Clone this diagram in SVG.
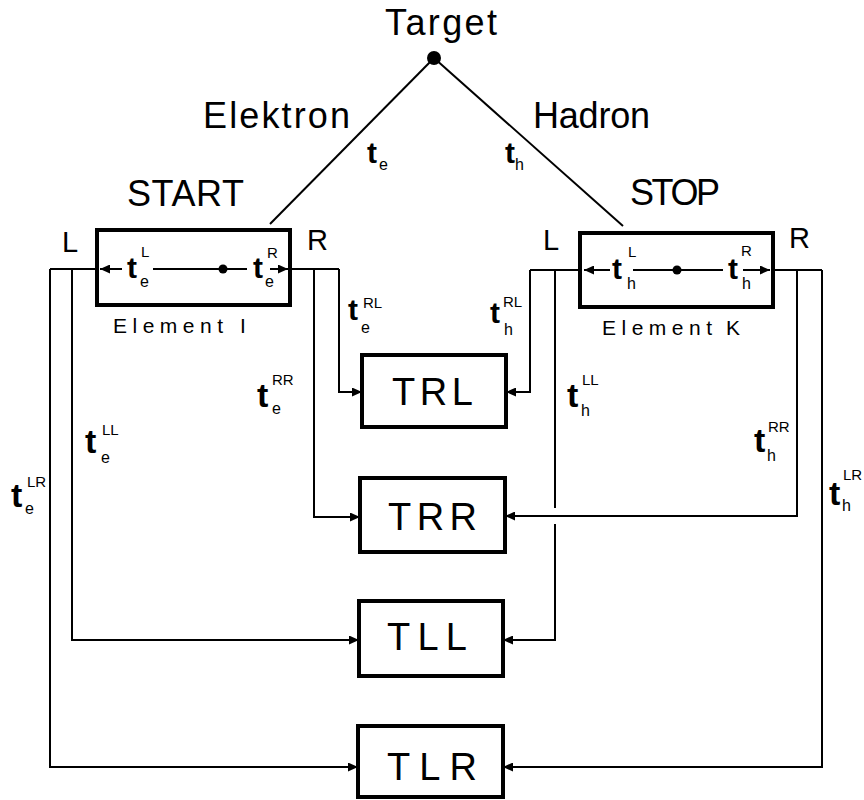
<svg xmlns="http://www.w3.org/2000/svg" width="864" height="800" viewBox="0 0 864 800">
  <style>
    .lbl { font-family: "Liberation Sans", Arial, sans-serif; fill: #000; }
    .big { font-size: 36px; }
    .side { font-size: 29px; }
    .tt { font-size: 30px; font-weight: bold; }
    .tl { font-size: 34px; font-weight: bold; }
    .sup { font-size: 15px; }
    .sub { font-size: 16px; }
    .small { font-size: 21px; }
    .boxtxt { font-size: 38px; }
    .box { fill: #fff; stroke: #000; stroke-width: 4; }
    .wire { fill: none; stroke: #000; stroke-width: 2; }
  </style>
  <defs>
    <marker id="arr" viewBox="0 0 10 9" refX="10" refY="4.5" markerWidth="10" markerHeight="9" markerUnits="userSpaceOnUse" orient="auto">
      <path d="M0,0 L10,4.5 L0,9 z" fill="#000"/>
    </marker>
  </defs>
  <rect width="864" height="800" fill="#fff"/>

  <!-- connectors -->
  <g id="connectors" class="wire">
    <!-- target to counters -->
    <line x1="434" y1="58" x2="270" y2="224"/>
    <line x1="434" y1="58" x2="623" y2="226"/>
    <!-- START left outputs -->
    <line x1="50" y1="269" x2="97" y2="269"/>
    <path d="M50,269 V767 H358" marker-end="url(#arr)"/>
    <path d="M72,269 V640 H359" marker-end="url(#arr)"/>
    <!-- START right outputs -->
    <line x1="290" y1="269" x2="339" y2="269"/>
    <path d="M339,269 V392 H362" marker-end="url(#arr)"/>
    <path d="M314,269 V517 H360" marker-end="url(#arr)"/>
    <!-- STOP left outputs -->
    <line x1="530" y1="270" x2="580" y2="270"/>
    <path d="M530,270 V392 H506" marker-end="url(#arr)"/>
    <path d="M555,270 V508"/>
    <path d="M555,524 V640 H503" marker-end="url(#arr)"/>
    <!-- STOP right outputs -->
    <line x1="773" y1="270" x2="822" y2="270"/>
    <path d="M797,270 V516 H505" marker-end="url(#arr)"/>
    <path d="M822,270 V767 H503" marker-end="url(#arr)"/>
  </g>

  <!-- target -->
  <g id="target">
    <circle cx="434" cy="58" r="7" fill="#000"/>
    <text class="lbl big" x="385" y="35" textLength="112">Target</text>
    <text class="lbl big" x="203" y="128" textLength="147">Elektron</text>
    <text class="lbl big" x="533" y="128" textLength="117">Hadron</text>
    <text class="lbl tt" x="367" y="163">t</text>
    <text class="lbl sub" x="379" y="170">e</text>
    <text class="lbl tt" x="505" y="163">t</text>
    <text class="lbl sub" x="515" y="170">h</text>
  </g>

  <!-- START counter (element I) -->
  <g id="start">
    <text class="lbl big" x="127" y="206" textLength="117">START</text>
    <text class="lbl side" x="62" y="252">L</text>
    <text class="lbl side" x="307" y="250">R</text>
    <rect class="box" x="97" y="230" width="193" height="75"/>
    <line class="wire" x1="122" y1="269" x2="100" y2="269" marker-end="url(#arr)"/>
    <line class="wire" x1="153" y1="269" x2="247" y2="269"/>
    <line class="wire" x1="270" y1="269" x2="288" y2="269" marker-end="url(#arr)"/>
    <circle cx="223" cy="269" r="4.5" fill="#000"/>
    <text class="lbl tt" x="127" y="278">t</text>
    <text class="lbl sup" x="141" y="257">L</text>
    <text class="lbl sub" x="140" y="287">e</text>
    <text class="lbl tt" x="253" y="278">t</text>
    <text class="lbl sup" x="267" y="258">R</text>
    <text class="lbl sub" x="265" y="287">e</text>
    <text class="lbl small" x="113" y="333" textLength="110">Element</text>
    <text class="lbl small" x="240" y="333">I</text>
  </g>

  <!-- STOP counter (element K) -->
  <g id="stop">
    <text class="lbl big" x="630" y="205" textLength="90">STOP</text>
    <text class="lbl side" x="543" y="250">L</text>
    <text class="lbl side" x="789" y="248">R</text>
    <rect class="box" x="580" y="233" width="193" height="74"/>
    <line class="wire" x1="610" y1="270" x2="584" y2="270" marker-end="url(#arr)"/>
    <line class="wire" x1="633" y1="270" x2="723" y2="270"/>
    <line class="wire" x1="743" y1="270" x2="770" y2="270" marker-end="url(#arr)"/>
    <circle cx="677" cy="270" r="4.5" fill="#000"/>
    <text class="lbl tt" x="612" y="279">t</text>
    <text class="lbl sup" x="628" y="257">L</text>
    <text class="lbl sub" x="627" y="289">h</text>
    <text class="lbl tt" x="728" y="279">t</text>
    <text class="lbl sup" x="741" y="256">R</text>
    <text class="lbl sub" x="742" y="289">h</text>
    <text class="lbl small" x="602" y="335" textLength="110">Element</text>
    <text class="lbl small" x="726" y="335">K</text>
  </g>

  <!-- path time labels -->
  <g id="labels">
    <text class="lbl tt" x="348" y="320">t</text>
    <text class="lbl sup" x="363" y="308">RL</text>
    <text class="lbl sub" x="361" y="333">e</text>

    <text class="lbl tt" x="490" y="323">t</text>
    <text class="lbl sup" x="503" y="307">RL</text>
    <text class="lbl sub" x="504" y="335">h</text>

    <text class="lbl tl" x="257" y="407">t</text>
    <text class="lbl sup" x="272" y="385">RR</text>
    <text class="lbl sub" x="272" y="414">e</text>

    <text class="lbl tl" x="85" y="453">t</text>
    <text class="lbl sup" x="102" y="435">LL</text>
    <text class="lbl sub" x="101" y="463">e</text>

    <text class="lbl tl" x="11" y="507">t</text>
    <text class="lbl sup" x="27" y="487">LR</text>
    <text class="lbl sub" x="25" y="514">e</text>

    <text class="lbl tl" x="567" y="407">t</text>
    <text class="lbl sup" x="582" y="385">LL</text>
    <text class="lbl sub" x="581" y="416">h</text>

    <text class="lbl tl" x="754" y="452">t</text>
    <text class="lbl sup" x="768" y="432">RR</text>
    <text class="lbl sub" x="767" y="461">h</text>

    <text class="lbl tl" x="829" y="505">t</text>
    <text class="lbl sup" x="843" y="480">LR</text>
    <text class="lbl sub" x="842" y="511">h</text>
  </g>

  <!-- coincidence units -->
  <g id="trl">
    <rect class="box" x="362" y="355" width="144" height="72"/>
    <text class="lbl boxtxt" x="392" y="405" textLength="81">TRL</text>
  </g>
  <g id="trr">
    <rect class="box" x="360" y="478" width="145" height="74"/>
    <text class="lbl boxtxt" x="388" y="530" textLength="89">TRR</text>
  </g>
  <g id="tll">
    <rect class="box" x="359" y="601" width="144" height="75"/>
    <text class="lbl boxtxt" x="387" y="650" textLength="80">TLL</text>
  </g>
  <g id="tlr">
    <rect class="box" x="358" y="726" width="145" height="71"/>
    <text class="lbl boxtxt" x="387" y="780" textLength="90">TLR</text>
  </g>
</svg>
